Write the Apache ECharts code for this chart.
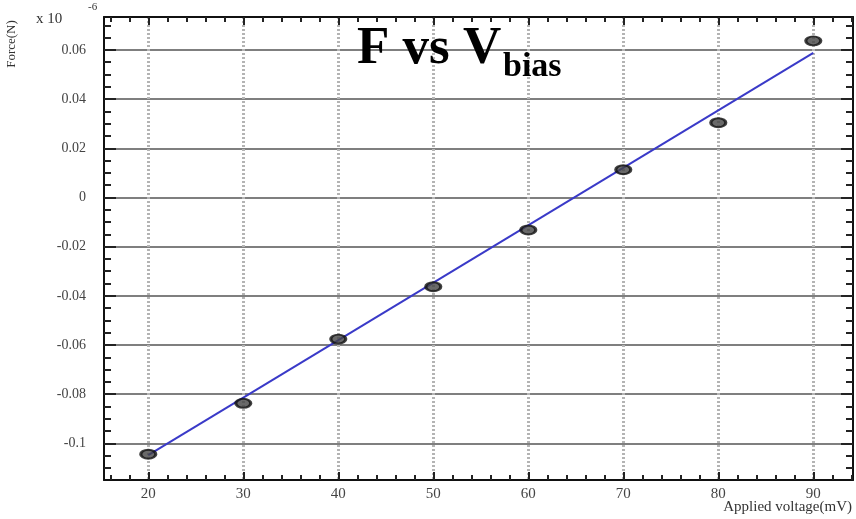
<!DOCTYPE html>
<html>
<head>
<meta charset="utf-8">
<script src="https://cdn.jsdelivr.net/npm/echarts@6/dist/echarts.min.js"></script>
<style>html,body{margin:0;padding:0;background:#fff}#c{width:856px;height:519px}</style>
</head>
<body>
<div id="c"></div>
<script>
// ---- data ----
const voltages = [20, 30, 40, 50, 60, 70, 80, 90];
const forces = [-0.1044, -0.0837, -0.0576, -0.0363, -0.0132, 0.0113, 0.0304, 0.0637];
const fitVoltages = [20, 90];
const fitForces = [-0.1048, 0.0588];
const xTicks = [20, 30, 40, 50, 60, 70, 80, 90];
const xMinorTicks = [16, 18, 22, 24, 26, 28, 32, 34, 36, 38, 42, 44, 46, 48, 52, 54, 56, 58, 62, 64, 66, 68, 72, 74, 76, 78, 82, 84, 86, 88, 92, 94];
const yTicks = [-0.1, -0.08, -0.06, -0.04, -0.02, 0, 0.02, 0.04, 0.06];
const yMinorTicks = [-0.115, -0.11, -0.105, -0.095, -0.09, -0.085, -0.075, -0.07, -0.065, -0.055, -0.05, -0.045, -0.035, -0.03, -0.025, -0.015, -0.01, -0.005, 0.005, 0.01, 0.015, 0.025, 0.03, 0.035, 0.045, 0.05, 0.055, 0.065, 0.07];
const xRange = [15.34, 94.18];
const yRange = [-0.1149, 0.0734];

const FONT = 'Liberation Serif';
const chart = echarts.init(document.getElementById('c'), null, {renderer: 'canvas'});

function xAxisDef(pos, show, custom, len, labels, split) {
  return {
    type: 'value', position: pos, min: xRange[0], max: xRange[1],
    axisLine: {show: show, onZero: false, lineStyle: {color: '#111', width: 2}},
    axisTick: {show: true, inside: true, length: len, customValues: custom, lineStyle: {color: '#222', width: 2}},
    axisLabel: {show: labels, customValues: custom, margin: 7, color: '#444', fontFamily: FONT, fontSize: 15,
      formatter: v => String(Math.round(v))},
    splitLine: {show: split, lineStyle: {color: '#b4b4b4', width: 3, type: [2, 2]}}
  };
}
function yAxisDef(pos, show, custom, len, labels, split) {
  return {
    type: 'value', position: pos, min: yRange[0], max: yRange[1],
    axisLine: {show: show, onZero: false, lineStyle: {color: '#111', width: 2}},
    axisTick: {show: true, inside: true, length: len, customValues: custom, lineStyle: {color: '#222', width: 2}},
    axisLabel: {show: labels, customValues: custom, margin: 18, color: '#444', fontFamily: FONT, fontSize: 14,
      formatter: v => { const r = Math.round(v * 100) / 100; return r === 0 ? '0' : String(r); }},
    splitLine: {show: split, lineStyle: {color: '#555', width: 1.5}}
  };
}

chart.setOption({
  animation: false,
  backgroundColor: '#fff',
  grid: {left: 104, right: 3, top: 17, bottom: 39, containLabel: false},
  xAxis: [
    xAxisDef('bottom', true, xTicks, 8, true, true),
    xAxisDef('bottom', false, xMinorTicks, 5, false, false),
    xAxisDef('top', true, xTicks, 8, false, false),
    xAxisDef('top', false, xMinorTicks, 5, false, false)
  ],
  yAxis: [
    yAxisDef('left', true, yTicks, 12, true, true),
    yAxisDef('left', false, yMinorTicks, 7, false, false),
    yAxisDef('right', true, yTicks, 12, false, false),
    yAxisDef('right', false, yMinorTicks, 7, false, false)
  ],
  series: [
    {
      type: 'line', xAxisIndex: 0, yAxisIndex: 0,
      data: fitVoltages.map((v, i) => [v, fitForces[i]]),
      showSymbol: false, symbol: 'none',
      lineStyle: {color: '#3a3ac8', width: 2}, z: 3
    },
    {
      type: 'scatter', xAxisIndex: 0, yAxisIndex: 0,
      data: voltages.map((v, i) => [v, forces[i]]),
      symbol: 'circle', symbolSize: [15, 9],
      itemStyle: {color: '#444', borderColor: '#111', borderWidth: 2.5}, z: 4
    }
  ],
  graphic: [
    {type: 'text', left: 357, top: 23, z: 10, style: {text: 'F vs V', font: 'bold 53px "Liberation Serif"', fill: '#000',
      shadowColor: 'rgba(0,0,0,0.45)', shadowOffsetX: 2, shadowOffsetY: 2, shadowBlur: 1}},
    {type: 'text', left: 503, top: 50, z: 10, style: {text: 'bias', font: 'bold 34px "Liberation Serif"', fill: '#000',
      shadowColor: 'rgba(0,0,0,0.45)', shadowOffsetX: 2, shadowOffsetY: 2, shadowBlur: 1}},
    {type: 'text', x: 12, y: 44, rotation: Math.PI / 2, z: 10,
      style: {text: 'Force(N)', font: '13px "Liberation Serif"', fill: '#333', align: 'center', verticalAlign: 'middle'}},
    {type: 'text', left: 36, top: 12, z: 10, style: {text: 'x 10', font: '15px "Liberation Serif"', fill: '#333'}},
    {type: 'text', left: 88, top: 2, z: 10, style: {text: '-6', font: '11px "Liberation Serif"', fill: '#333'}},
    {type: 'text', right: 4, top: 500, z: 10, style: {text: 'Applied voltage(mV)', font: '15px "Liberation Serif"', fill: '#333'}}
  ]
});
</script>
</body>
</html>
